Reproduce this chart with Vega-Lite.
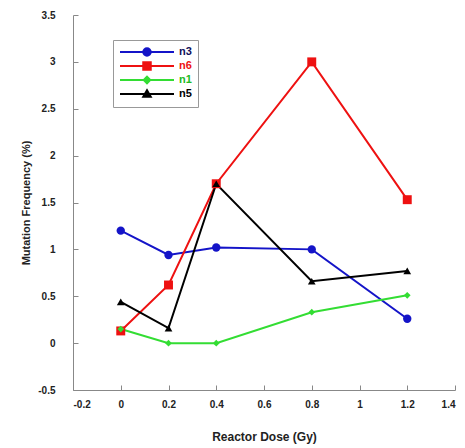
{
  "$schema": "https://vega.github.io/schema/vega-lite/v6.json",
  "width": 382,
  "height": 375,
  "autosize": "none",
  "padding": {"left": 73, "top": 15, "right": 10, "bottom": 58},
  "background": "white",
  "config": {
    "view": {"stroke": null},
    "font": "Liberation Sans",
    "axis": {
      "grid": false,
      "domainColor": "#888888",
      "tickColor": "#888888",
      "tickSize": -5,
      "labelColor": "#222222",
      "labelFont": "Liberation Sans",
      "labelFontWeight": "bold",
      "labelFontSize": 10,
      "titleFont": "Liberation Sans",
      "titleFontWeight": "bold",
      "titleColor": "#222222"
    }
  },
  "data": {
    "values": [
      {"dose": 0, "freq": 1.2, "series": "n3"},
      {"dose": 0.2, "freq": 0.94, "series": "n3"},
      {"dose": 0.4, "freq": 1.02, "series": "n3"},
      {"dose": 0.8, "freq": 1.0, "series": "n3"},
      {"dose": 1.2, "freq": 0.26, "series": "n3"},
      {"dose": 0, "freq": 0.13, "series": "n6"},
      {"dose": 0.2, "freq": 0.62, "series": "n6"},
      {"dose": 0.4, "freq": 1.7, "series": "n6"},
      {"dose": 0.8, "freq": 3.0, "series": "n6"},
      {"dose": 1.2, "freq": 1.53, "series": "n6"},
      {"dose": 0, "freq": 0.15, "series": "n1"},
      {"dose": 0.2, "freq": 0.0, "series": "n1"},
      {"dose": 0.4, "freq": 0.0, "series": "n1"},
      {"dose": 0.8, "freq": 0.33, "series": "n1"},
      {"dose": 1.2, "freq": 0.51, "series": "n1"},
      {"dose": 0, "freq": 0.44, "series": "n5"},
      {"dose": 0.2, "freq": 0.16, "series": "n5"},
      {"dose": 0.4, "freq": 1.7, "series": "n5"},
      {"dose": 0.8, "freq": 0.66, "series": "n5"},
      {"dose": 1.2, "freq": 0.77, "series": "n5"}
    ]
  },
  "encoding": {
    "x": {
      "field": "dose", "type": "quantitative",
      "scale": {"domain": [-0.2, 1.4], "nice": false, "zero": false},
      "axis": {
        "title": "Reactor Dose (Gy)",
        "titleFontSize": 12,
        "titlePadding": 22,
        "values": [-0.2, 0, 0.2, 0.4, 0.6, 0.8, 1, 1.2, 1.4],
        "labelExpr": "'' + datum.value",
        "labelPadding": 14
      }
    },
    "y": {
      "field": "freq", "type": "quantitative",
      "scale": {"domain": [-0.5, 3.5], "nice": false, "zero": false},
      "axis": {
        "title": "Mutation Frequency (%)",
        "titleFontSize": 11,
        "titlePadding": 6,
        "values": [-0.5, 0, 0.5, 1, 1.5, 2, 2.5, 3, 3.5],
        "labelExpr": "'' + datum.value",
        "labelPadding": 23
      }
    },
    "color": {
      "field": "series", "type": "nominal",
      "scale": {"domain": ["n3", "n6", "n1", "n5"], "range": ["#1414c8", "#ee1111", "#33dd33", "#000000"]},
      "legend": {
        "title": null,
        "orient": "none",
        "legendX": 40,
        "legendY": 25,
        "strokeColor": "#999999",
        "fillColor": "white",
        "padding": 6,
        "symbolSize": 100,
        "symbolOffset": 22,
        "labelOffset": 26,
        "rowPadding": -7,
        "labelFontSize": 11,
        "labelFontWeight": "bold",
        "encode": {
          "symbols": {
            "update": {
              "shape": {"signal": "datum.value == 'n3' ? 'M-5.4,0H5.4M0.75,0A0.75,0.75 0 1,1 -0.75,0A0.75,0.75 0 1,1 0.75,0Z' : datum.value == 'n6' ? 'M-5.4,0H5.4M-0.75,-0.75H0.75V0.75H-0.75Z' : datum.value == 'n1' ? 'M-5.4,0H5.4M0,-0.65L0.65,0L0,0.65L-0.65,0Z' : 'M-5.4,0H5.4M0,-0.75L0.75,0.55L-0.75,0.55Z'"},
              "fill": {"signal": "datum.value == 'n3' ? '#1414c8' : datum.value == 'n6' ? '#ee1111' : datum.value == 'n1' ? '#33dd33' : '#000000'"},
              "stroke": {"signal": "datum.value == 'n3' ? '#1414c8' : datum.value == 'n6' ? '#ee1111' : datum.value == 'n1' ? '#33dd33' : '#000000'"},
              "strokeWidth": {"value": 2},
              "fillOpacity": {"value": 1},
              "opacity": {"value": 1}
            }
          },
          "labels": {
            "update": {
              "fill": {"signal": "datum.value == 'n3' ? '#10105a' : datum.value == 'n6' ? '#ee1111' : datum.value == 'n1' ? '#22bb22' : '#000000'"}
            }
          }
        }
      }
    }
  },
  "layer": [
    {
      "mark": {"type": "line", "strokeWidth": 2}
    },
    {
      "transform": [{"filter": "datum.series == 'n3'"}],
      "mark": {"type": "point", "shape": "circle", "filled": true, "opacity": 1, "size": 70}
    },
    {
      "transform": [{"filter": "datum.series == 'n6'"}],
      "mark": {"type": "point", "shape": "square", "filled": true, "opacity": 1, "size": 80}
    },
    {
      "transform": [{"filter": "datum.series == 'n1'"}],
      "mark": {"type": "point", "shape": "diamond", "filled": true, "opacity": 1, "size": 45}
    },
    {
      "transform": [{"filter": "datum.series == 'n5'"}],
      "mark": {"type": "point", "shape": "triangle-up", "filled": true, "opacity": 1, "size": 60}
    }
  ]
}
